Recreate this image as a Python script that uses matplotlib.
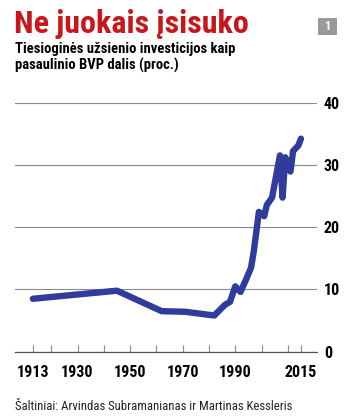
import matplotlib
matplotlib.use('Agg')
import matplotlib.pyplot as plt
from matplotlib import font_manager
from matplotlib.patches import Rectangle

# Data (FDI stock as % of world GDP)
years = [1913, 1945, 1962, 1971, 1982, 1986, 1988, 1990, 1992, 1994, 1996, 1997,
         1999, 2001, 2002, 2004, 2007, 2008, 2009, 2011, 2012, 2014, 2015]
values = [8.5, 9.8, 6.5, 6.4, 5.8, 7.5, 8.0, 10.5, 9.6, 11.5, 13.5, 16.0,
          22.5, 21.8, 23.6, 24.8, 31.6, 24.8, 31.3, 29.0, 32.3, 33.2, 34.3]

label_years = [1913, 1930, 1950, 1970, 1990, 2015]
minor_years = [1920, 1940, 1960, 1980, 2000, 2010]
y_ticks = [0, 10, 20, 30, 40]

title = 'Ne juokais įsisuko'
subtitle = 'Tiesioginės užsienio investicijos kaip\npasaulinio BVP dalis (proc.)'
source = 'Šaltiniai: Arvindas Subramanianas ir Martinas Kessleris'

# pick a narrow font if there is one
names = {f.name for f in font_manager.fontManager.ttflist}
narrow = 'DejaVu Sans'
for cand in ['Liberation Sans Narrow', 'DejaVu Sans Condensed', 'Roboto Condensed', 'Liberation Sans']:
    if cand in names:
        narrow = cand
        break
plt.rcParams['font.family'] = [narrow, 'DejaVu Sans']

line_color = '#303c9c'
red = '#c8161d'
grid_color = '#8a8a8a'

fig = plt.figure(figsize=(3.47, 4.20), dpi=100)
ax = fig.add_axes([15 / 347, 1 - 351.5 / 420, 302 / 347, 248.2 / 420])

ax.plot(years, values, color=line_color, linewidth=4.6, solid_capstyle='round',
        solid_joinstyle='round', clip_on=False, zorder=3)

ax.set_xlim(1906.2, 2021.1)
ax.set_ylim(0, 40)

ax.set_yticks(y_ticks)
ax.yaxis.tick_right()
ax.tick_params(axis='y', length=0, pad=5, labelsize=11.5)
for lab in ax.get_yticklabels():
    lab.set_fontweight('bold')
ax.yaxis.grid(True, color=grid_color, linewidth=0.8)
ax.set_axisbelow(True)

ax.set_xticks(label_years)
ax.set_xticks(minor_years, minor=True)
ax.set_xticklabels([str(y) for y in label_years], fontweight='bold', fontsize=11.5)
ax.tick_params(axis='x', which='both', direction='in', length=5, width=0.8,
               color=grid_color, pad=10)

for s in ['top', 'left', 'right']:
    ax.spines[s].set_visible(False)
ax.spines['bottom'].set_color('#555555')
ax.spines['bottom'].set_linewidth(0.9)

fig.text(14 / 347, 1 - 9 / 420, title, color=red, fontsize=23, fontweight='bold',
         va='top', ha='left')
fig.text(15 / 347, 1 - 42 / 420, subtitle, color='black', fontsize=10.5,
         fontweight='bold', va='top', ha='left', linespacing=1.15)
fig.text(15 / 347, 1 - 410 / 420, source, color='#222222', fontsize=9.2,
         va='baseline', ha='left')

# small grey badge with the number 1
fig.patches.append(Rectangle((318 / 347, 1 - 35 / 420), 19 / 347, 17 / 420,
                             transform=fig.transFigure, facecolor='#9a9a9a',
                             edgecolor='none'))
fig.text(327.5 / 347, 1 - 26.5 / 420, '1', color='white', fontsize=9,
         fontweight='bold', ha='center', va='center')

fig.savefig('out.png', dpi=100)
